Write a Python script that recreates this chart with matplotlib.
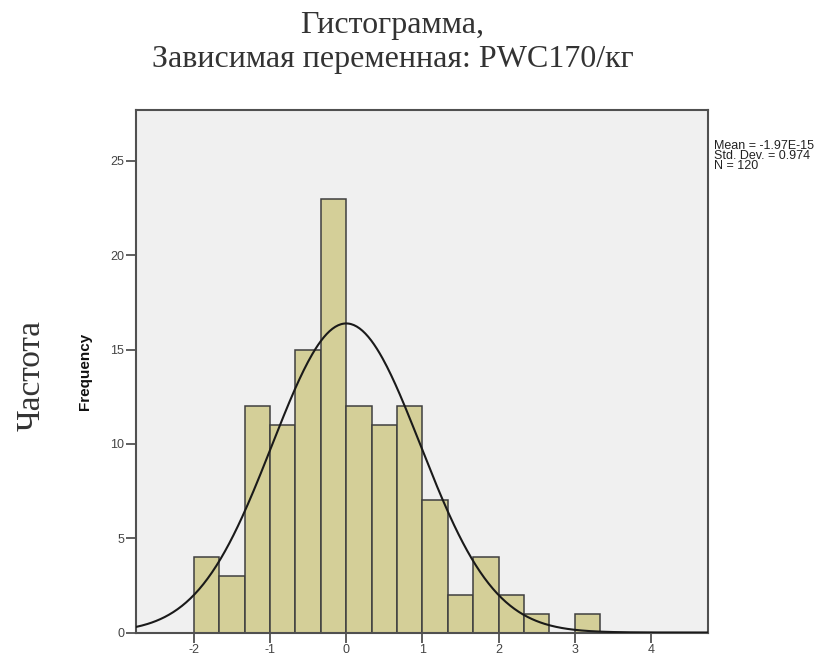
import matplotlib.pyplot as plt
import numpy as np

plt.rcParams["axes.unicode_minus"] = False

# histogram of standardized residuals
bin_edges = [-2.0, -5 / 3, -4 / 3, -1.0, -2 / 3, -1 / 3, 0.0, 1 / 3, 2 / 3, 1.0,
             4 / 3, 5 / 3, 2.0, 7 / 3, 8 / 3, 3.0, 10 / 3]
counts = [4, 3, 12, 11, 15, 23, 12, 11, 12, 7, 2, 4, 2, 1, 0, 1]

mean = -1.97e-15
std_dev = 0.974
n_total = 120

x_ticks = [-2, -1, 0, 1, 2, 3, 4]
y_ticks = [0, 5, 10, 15, 20, 25]

title_lines = ["Гистограмма,", "Зависимая переменная: PWC170/кг"]
stats_text = "Mean = -1.97E-15\nStd. Dev. = 0.974\nN = 120"


def main():
    fig = plt.figure(figsize=(8.37, 6.59), dpi=100)
    ax = fig.add_axes([0.1625, 0.0402, 0.6834, 0.7929])
    ax.set_facecolor("#F0F0F0")

    edges = np.array(bin_edges)
    widths = np.diff(edges)
    ax.bar(edges[:-1], counts, width=widths, align="edge",
           color="#D4CF98", edgecolor="#3F3F3F", linewidth=1.1, zorder=2)

    # normal curve scaled to the histogram
    bw = widths.mean()
    xs = np.linspace(-2.76, 4.75, 400)
    ys = n_total * bw * np.exp(-0.5 * ((xs - mean) / std_dev) ** 2) / (std_dev * np.sqrt(2 * np.pi))
    ax.plot(xs, ys, color="#1A1A1A", linewidth=1.5, zorder=3)

    ax.set_xlim(-2.76, 4.75)
    ax.set_ylim(0, 27.7)
    ax.set_xticks(x_ticks)
    ax.set_yticks(y_ticks)
    ax.tick_params(direction="out", length=7, width=1.2, color="#444444",
                   labelsize=9, labelcolor="#444444", pad=1.5)
    for lab in ax.get_xticklabels() + ax.get_yticklabels():
        lab.set_family("Liberation Sans")

    for spine in ax.spines.values():
        spine.set_linewidth(1.5)
        spine.set_color("#505050")

    ax.set_ylabel("Frequency", fontsize=11, fontweight="bold",
                  family="Liberation Sans", color="#111111", labelpad=13)

    fig.text(0.038, 0.43, "Частота", rotation=90, ha="center", va="center",
             fontsize=24, family="Liberation Serif", color="#333333")
    fig.text(0.469, 0.962, title_lines[0], ha="center", va="center",
             fontsize=23, family="Liberation Serif", color="#333333")
    fig.text(0.469, 0.909, title_lines[1], ha="center", va="center",
             fontsize=23, family="Liberation Serif", color="#333333")

    fig.text(0.853, 0.788, stats_text, ha="left", va="top", fontsize=9,
             family="Liberation Sans", color="#222222", linespacing=0.8)

    fig.savefig("out.png", dpi=100, facecolor="white")


if __name__ == "__main__":
    main()
